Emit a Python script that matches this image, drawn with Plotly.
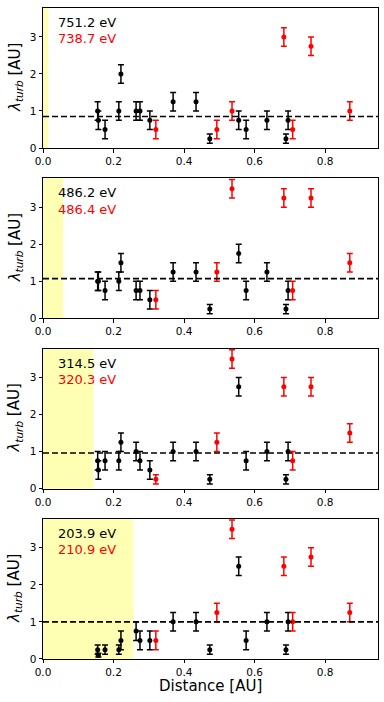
import plotly.graph_objects as go

# x positions (AU), shared by all panels
black_x = [0.155, 0.157, 0.176, 0.215, 0.221, 0.264, 0.275, 0.303,
           0.369, 0.434, 0.473, 0.555, 0.576, 0.635, 0.689, 0.695]
red_x = [0.320, 0.493, 0.536, 0.683, 0.708, 0.760, 0.870]

black_y = [
    [1.0, 0.75, 0.5, 1.0, 2.0, 1.0, 1.0, 0.75, 1.25, 1.25, 0.25, 0.75, 0.5, 0.75, 0.25, 0.75],
    [1.0, 1.0, 0.75, 1.0, 1.5, 0.75, 0.75, 0.5, 1.25, 1.25, 0.25, 1.75, 0.75, 1.25, 0.25, 0.75],
    [0.75, 0.5, 0.75, 0.75, 1.25, 1.0, 0.75, 0.5, 1.0, 1.0, 0.25, 2.75, 0.75, 1.0, 0.25, 1.0],
    [0.25, 0.1, 0.25, 0.25, 0.5, 0.75, 0.5, 0.5, 1.0, 1.0, 0.25, 2.5, 0.5, 1.0, 0.25, 1.0],
]
black_err = [
    [0.25, 0.25, 0.25, 0.25, 0.25, 0.25, 0.25, 0.25, 0.25, 0.25, 0.125, 0.25, 0.25, 0.25, 0.125, 0.25],
    [0.25, 0.25, 0.25, 0.25, 0.25, 0.25, 0.25, 0.25, 0.25, 0.25, 0.125, 0.25, 0.25, 0.25, 0.125, 0.25],
    [0.25, 0.25, 0.25, 0.25, 0.25, 0.25, 0.25, 0.25, 0.25, 0.25, 0.125, 0.25, 0.25, 0.25, 0.125, 0.25],
    [0.125, 0.05, 0.125, 0.125, 0.25, 0.25, 0.25, 0.25, 0.25, 0.25, 0.125, 0.25, 0.25, 0.25, 0.125, 0.25],
]
red_y = [
    [0.5, 0.5, 1.0, 3.0, 0.5, 2.75, 1.0],
    [0.5, 1.25, 3.5, 3.25, 0.75, 3.25, 1.5],
    [0.25, 1.25, 3.5, 2.75, 0.75, 2.75, 1.5],
    [0.5, 1.25, 3.5, 2.5, 1.0, 2.75, 1.25],
]
red_err = [
    [0.25, 0.25, 0.25, 0.25, 0.25, 0.25, 0.25],
    [0.25, 0.25, 0.25, 0.25, 0.25, 0.25, 0.25],
    [0.125, 0.25, 0.25, 0.25, 0.25, 0.25, 0.25],
    [0.25, 0.25, 0.25, 0.25, 0.25, 0.25, 0.25],
]
mean_level = [0.85, 1.07, 0.96, 1.0]
shade_end = [0.015, 0.057, 0.143, 0.256]
black_label = ["751.2 eV", "486.2 eV", "314.5 eV", "203.9 eV"]
red_label = ["738.7 eV", "486.4 eV", "320.3 eV", "210.9 eV"]

W, H = 384, 702
ML, MR, MT, MB = 43, 6, 8, 43
plot_w = W - ML - MR
plot_h = H - MT - MB
panel_h, gap = 140, 30.3

FONT = "DejaVu Sans"
fig = go.Figure()
shapes = []
annotations = []

for i in range(4):
    top = 1 - i * (panel_h + gap) / plot_h
    bottom = top - panel_h / plot_h
    ax = "" if i == 0 else str(i + 1)
    xa, ya = "x" + ax, "y" + ax

    fig.add_trace(go.Scatter(
        x=black_x, y=black_y[i], mode="markers", xaxis=xa, yaxis=ya,
        marker=dict(color="black", size=5),
        error_y=dict(type="data", array=black_err[i], color="black",
                     thickness=1.5, width=3),
        showlegend=False,
    ))
    fig.add_trace(go.Scatter(
        x=red_x, y=red_y[i], mode="markers", xaxis=xa, yaxis=ya,
        marker=dict(color="red", size=5),
        error_y=dict(type="data", array=red_err[i], color="red",
                     thickness=1.5, width=3),
        showlegend=False,
    ))

    shapes.append(dict(type="rect", xref=xa, yref=ya + " domain",
                       x0=0, x1=shade_end[i], y0=0, y1=1,
                       fillcolor="rgb(255,255,179)", line_width=0, layer="below"))
    shapes.append(dict(type="line", xref=xa + " domain", yref=ya,
                       x0=0, x1=1, y0=mean_level[i], y1=mean_level[i],
                       line=dict(color="black", width=1.6, dash="6px,3px")))

    annotations.append(dict(text=black_label[i], xref=xa + " domain", yref=ya + " domain",
                            x=0.038, y=0.895, xanchor="left", yanchor="middle",
                            showarrow=False, font=dict(color="black", size=13, family=FONT)))
    annotations.append(dict(text=red_label[i], xref=xa + " domain", yref=ya + " domain",
                            x=0.038, y=0.78, xanchor="left", yanchor="middle",
                            showarrow=False, font=dict(color="red", size=13, family=FONT)))
    # y-axis title, placed by hand so the margins stay fixed
    annotations.append(dict(text="<i>λ<sub>turb</sub></i> [AU]", xref="paper", yref=ya + " domain",
                            x=-(ML - 15) / plot_w, y=0.5, xanchor="center", yanchor="middle",
                            textangle=-90, showarrow=False,
                            font=dict(color="black", size=15, family=FONT)))

    axis_common = dict(showline=True, linecolor="black", linewidth=1, mirror=True,
                       ticks="outside", ticklen=3.5, tickcolor="black",
                       showgrid=False, zeroline=False, automargin=False,
                       tickfont=dict(size=10.5, family=FONT, color="black"))
    xaxis = dict(domain=[0, 1], range=[0, 0.95], tickvals=[0, 0.2, 0.4, 0.6, 0.8],
                 tickformat=".1f", anchor=ya, **axis_common)
    yaxis = dict(domain=[bottom, top], range=[0, 3.78], tickvals=[0, 1, 2, 3],
                 anchor=xa, **axis_common)
    fig.update_layout({"xaxis" + ax: xaxis, "yaxis" + ax: yaxis})

annotations.append(dict(text="Distance [AU]", xref="x4 domain", yref="paper",
                        x=0.5, y=-(686 - (H - MB)) / plot_h, xanchor="center", yanchor="middle",
                        showarrow=False, font=dict(color="black", size=15, family=FONT)))

fig.update_layout(
    width=W, height=H,
    margin=dict(l=ML, r=MR, t=MT, b=MB),
    paper_bgcolor="white", plot_bgcolor="white",
    shapes=shapes, annotations=annotations,
    font=dict(family=FONT, color="black"),
)

# drop the browser's default body margin so the figure sits at the page corner
fig.write_html("out.html", config={"displayModeBar": False},
               post_script="document.body.style.margin='0';document.body.style.overflow='hidden';")
